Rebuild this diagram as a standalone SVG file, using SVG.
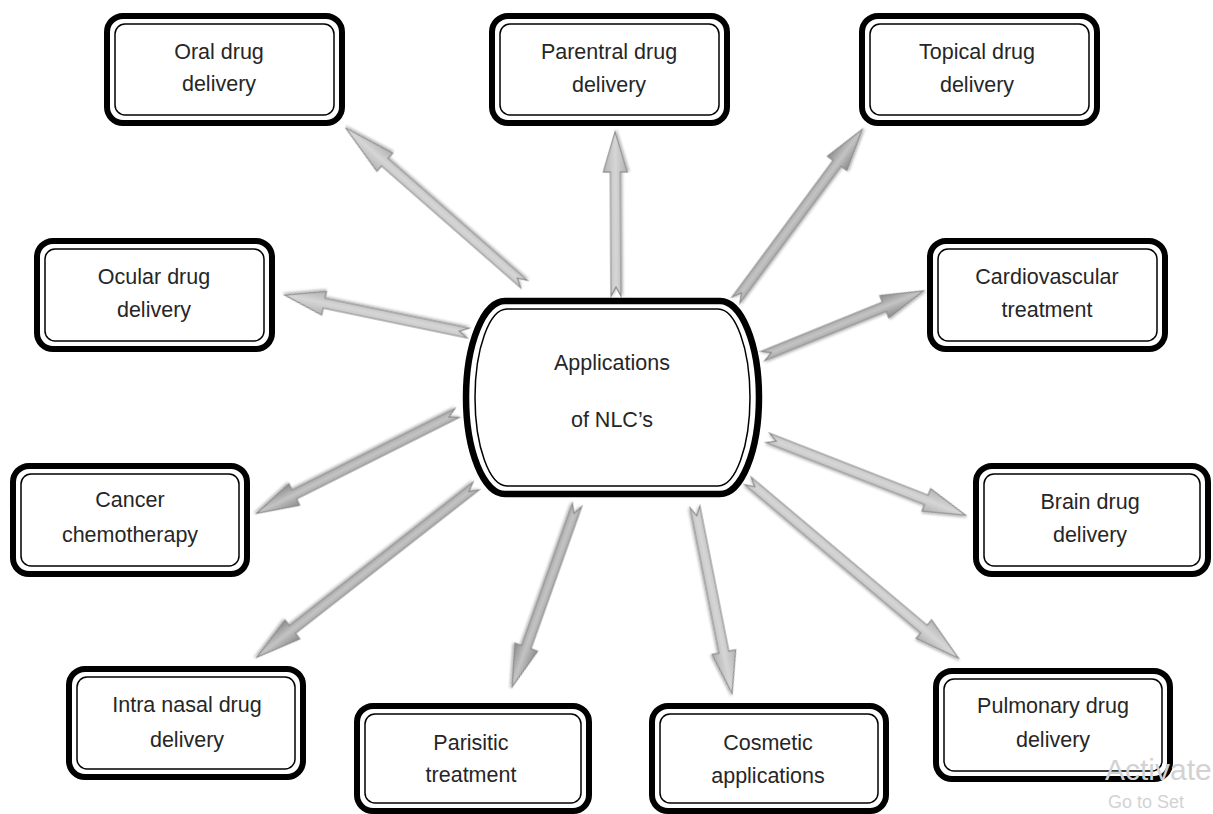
<svg xmlns="http://www.w3.org/2000/svg" width="1213" height="814" viewBox="0 0 1213 814">
<defs>
<style>
.box-o{fill:#fff;stroke:#000;stroke-width:6}
.box-i{fill:none;stroke:#000;stroke-width:1.5}
.t{font-family:"Liberation Sans",Arial,sans-serif;font-size:21.5px;fill:#262626;text-anchor:middle}
.arr{stroke:#8a8a8a;stroke-width:1.2;stroke-linejoin:miter;filter:url(#sh)}
.light{fill:url(#gl)}
.dark{fill:url(#gd)}
.wm{font-family:"Liberation Sans",Arial,sans-serif;fill:#d2d2d2}
</style>
<linearGradient id="gl" gradientUnits="userSpaceOnUse" x1="0" y1="-12" x2="0" y2="12">
<stop offset="0" stop-color="#b4b4b4"/><stop offset="0.5" stop-color="#d6d6d6"/><stop offset="1" stop-color="#b0b0b0"/>
</linearGradient>
<linearGradient id="gd" gradientUnits="userSpaceOnUse" x1="0" y1="-12" x2="0" y2="12">
<stop offset="0" stop-color="#8c8c8c"/><stop offset="0.5" stop-color="#c4c4c4"/><stop offset="1" stop-color="#8a8a8a"/>
</linearGradient>
<filter id="sh" x="-20%" y="-50%" width="140%" height="200%">
<feDropShadow dx="1" dy="1.5" stdDeviation="1.2" flood-color="#000" flood-opacity="0.3"/>
</filter>
</defs>
<rect width="1213" height="814" fill="#fff"/>

<g id="connectors">
<path class="arr light" transform="translate(524,284) rotate(-138.8)" d="M0 -5 L185 -5 L185 -12 L237 0 L185 12 L185 5 L0 5 L9 0 Z"/>
<path class="arr light" transform="translate(616,296) rotate(-90.3)" d="M0 -5 L124 -5 L124 -12 L164 0 L124 12 L124 5 L0 5 L9 0 Z"/>
<path class="arr dark" transform="translate(736,300) rotate(-53.5)" d="M0 -5 L170 -5 L170 -12 L212 0 L170 12 L170 5 L0 5 L9 0 Z"/>
<path class="arr light" transform="translate(468,333) rotate(-168.3)" d="M0 -5 L147 -5 L147 -12 L187 0 L147 12 L147 5 L0 5 L9 0 Z"/>
<path class="arr dark" transform="translate(763,356) rotate(-22.1)" d="M0 -5 L131 -5 L131 -12 L173 0 L131 12 L131 5 L0 5 L9 0 Z"/>
<path class="arr dark" transform="translate(457,413) rotate(153.4)" d="M0 -5 L182 -5 L182 -12 L224 0 L182 12 L182 5 L0 5 L9 0 Z"/>
<path class="arr light" transform="translate(768,438) rotate(21.35)" d="M0 -5 L170 -5 L170 -12 L212 0 L170 12 L170 5 L0 5 L9 0 Z"/>
<path class="arr dark" transform="translate(476,486) rotate(142)" d="M0 -5 L233 -5 L233 -12 L278 0 L233 12 L233 5 L0 5 L9 0 Z"/>
<path class="arr dark" transform="translate(577,505) rotate(109.65)" d="M0 -5 L151 -5 L151 -12 L193 0 L151 12 L151 5 L0 5 L9 0 Z"/>
<path class="arr light" transform="translate(695,507) rotate(78.75)" d="M0 -5 L148 -5 L148 -12 L190 0 L148 12 L148 5 L0 5 L9 0 Z"/>
<path class="arr light" transform="translate(748,481) rotate(40.1)" d="M0 -5 L230 -5 L230 -12 L275 0 L230 12 L230 5 L0 5 L9 0 Z"/>
</g>

<g id="center">
<path class="box-o" style="stroke-width:6.5" d="M505 301 H720 A39 96.5 0 0 1 720 494 H505 A39 96.5 0 0 1 505 301 Z"/>
<path class="box-i" d="M507 309 H718 A32 88.5 0 0 1 718 486 H507 A32 88.5 0 0 1 507 309 Z"/>
<text class="t" x="612" y="370">Applications</text>
<text class="t" x="612" y="427">of NLC’s</text>
</g>

<g id="oral">
<rect class="box-o" x="107" y="16" width="235" height="107" rx="16"/>
<rect class="box-i" x="115" y="24" width="219" height="91" rx="10"/>
<text class="t" x="219" y="59">Oral drug</text>
<text class="t" x="219" y="91">delivery</text>
</g>

<g id="parental">
<rect class="box-o" x="492" y="16" width="235" height="107" rx="16"/>
<rect class="box-i" x="500" y="24" width="219" height="91" rx="10"/>
<text class="t" x="609" y="59">Parentral drug</text>
<text class="t" x="609" y="92">delivery</text>
</g>

<g id="topical">
<rect class="box-o" x="862" y="16" width="235" height="107" rx="16"/>
<rect class="box-i" x="870" y="24" width="219" height="91" rx="10"/>
<text class="t" x="977" y="59">Topical drug</text>
<text class="t" x="977" y="92">delivery</text>
</g>

<g id="ocular">
<rect class="box-o" x="37" y="241" width="235" height="108" rx="16"/>
<rect class="box-i" x="45" y="249" width="219" height="92" rx="10"/>
<text class="t" x="154" y="284">Ocular drug</text>
<text class="t" x="154" y="317">delivery</text>
</g>

<g id="cardiovascular">
<rect class="box-o" x="930" y="241" width="235" height="108" rx="16"/>
<rect class="box-i" x="938" y="249" width="219" height="92" rx="10"/>
<text class="t" x="1047" y="284">Cardiovascular</text>
<text class="t" x="1047" y="317">treatment</text>
</g>

<g id="cancer">
<rect class="box-o" x="13" y="466" width="234" height="108" rx="16"/>
<rect class="box-i" x="21" y="474" width="218" height="92" rx="10"/>
<text class="t" x="130" y="507">Cancer</text>
<text class="t" x="130" y="542">chemotherapy</text>
</g>

<g id="brain">
<rect class="box-o" x="976" y="466" width="232" height="108" rx="16"/>
<rect class="box-i" x="984" y="474" width="216" height="92" rx="10"/>
<text class="t" x="1090" y="509">Brain drug</text>
<text class="t" x="1090" y="542">delivery</text>
</g>

<g id="intranasal">
<rect class="box-o" x="69" y="669" width="234" height="108" rx="16"/>
<rect class="box-i" x="77" y="677" width="218" height="92" rx="10"/>
<text class="t" x="187" y="712">Intra nasal drug</text>
<text class="t" x="187" y="747">delivery</text>
</g>

<g id="parisitic">
<rect class="box-o" x="357" y="706" width="232" height="105" rx="16"/>
<rect class="box-i" x="365" y="714" width="216" height="89" rx="10"/>
<text class="t" x="471" y="750">Parisitic</text>
<text class="t" x="471" y="782">treatment</text>
</g>

<g id="cosmetic">
<rect class="box-o" x="652" y="706" width="234" height="105" rx="16"/>
<rect class="box-i" x="660" y="714" width="218" height="89" rx="10"/>
<text class="t" x="768" y="750">Cosmetic</text>
<text class="t" x="768" y="783">applications</text>
</g>

<g id="pulmonary">
<rect class="box-o" x="936" y="671" width="234" height="108" rx="16"/>
<rect class="box-i" x="944" y="679" width="218" height="92" rx="10"/>
<text class="t" x="1053" y="713">Pulmonary drug</text>
<text class="t" x="1053" y="747">delivery</text>
</g>

<g id="watermark">
<text class="wm" x="1105" y="780" font-size="30">Activate</text>
<text class="wm" x="1108" y="808" font-size="18">Go to Set</text>
</g>
</svg>
